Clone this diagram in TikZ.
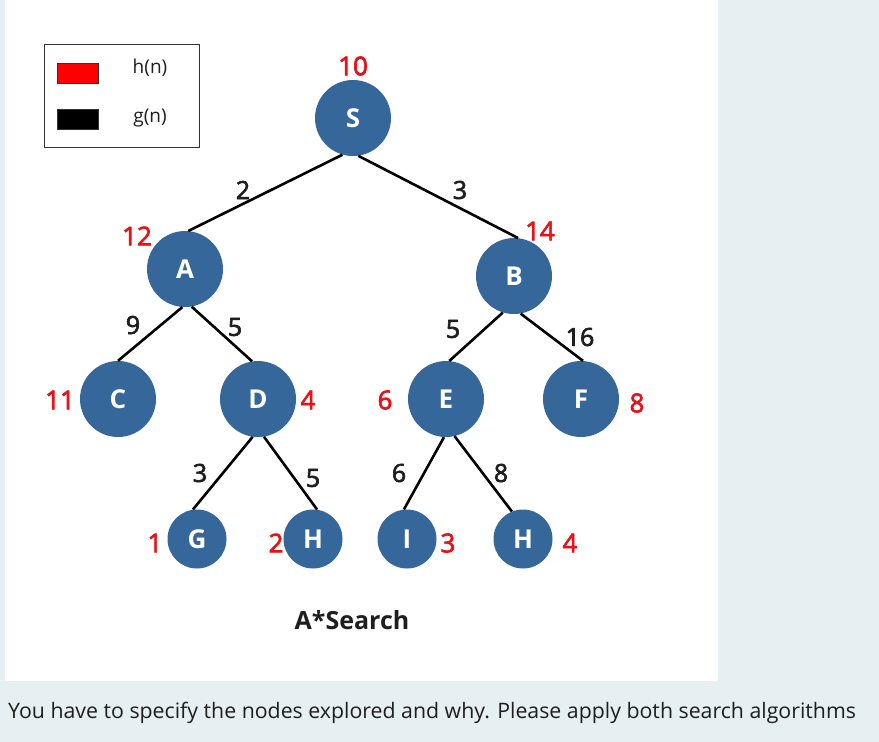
\documentclass[tikz,border=0pt]{standalone}
\usepackage{fontspec}
\setmainfont{Open Sans}
\newfontfamily\medfont[FakeBold=2.5]{Open Sans}
\definecolor{nodeblue}{RGB}{53,103,154}
\definecolor{hred}{RGB}{232,18,22}
\definecolor{pagebg}{RGB}{230,240,243}
\definecolor{inkgray}{RGB}{30,30,30}
\begin{document}
\begin{tikzpicture}[
					x=1pt,y=-1pt,
					snode/.style={circle,fill=nodeblue,text=white,inner sep=0pt,minimum size=76pt,font=\fontsize{26}{29}\selectfont\bfseries},
					leaf/.style={snode,minimum size=59pt},
					hlab/.style={text=hred,font=\fontsize{26}{29}\selectfont\medfont},
					glab/.style={text=inkgray,font=\fontsize{25}{28}\selectfont\medfont},
					tedge/.style={draw=black,line width=2.6pt},
					keybox/.style={draw=black!80,line width=0.8pt,minimum width=41pt,minimum height=20pt,inner sep=0pt}
					]
					\fill[pagebg] (0,0) rectangle (879,742);
					\fill[white] (5,0) rectangle (718,681);
					\useasboundingbox (0,0) rectangle (879,742);
					% legend
					\draw[draw=black!80,line width=1pt] (44,44) rectangle (199,147);
					\node[keybox,fill=red] (kh) at (77.5,73) {};
					\node[keybox,fill=black] (kg) at (77.5,119.5) {};
					\node[text=inkgray,font=\fontsize{19}{22}\selectfont] (lh) at (150,68) {h(n)};
					\node[text=inkgray,font=\fontsize{19}{22}\selectfont] (lg) at (150,118) {g(n)};
					% tree
					\foreach \n/\x/\y/\t in {S/353/118/S,A/185/269/A,B/514/276/B,C/118/399/C,D/258/399/D,E/446/399/E,F/581/399/F}{
						\node[snode] (t\n) at (\x,\y) {\t};
					}
					\foreach \n/\x/\y/\t in {G/197/539/G,H/313/539/H,I/407/539/I,J/523/539/H}{
						\node[leaf] (t\n) at (\x,\y) {\t};
					}
					\foreach \p/\pa/\c/\ca/\w/\lx/\ly in {S/254/A/85/2/243/190,S/278/B/84/3/460/190,A/266/C/90/9/133/325,A/280/D/99/5/235/327,B/253/E/85/5/453/329,B/280/F/87/16/580/337,D/262/G/98/3/200/473,D/279/H/82/5/313/478,E/267/I/96/6/399/473,E/283/J/112/8/501/473}{
						\draw[tedge] (t\p.\pa) -- (t\c.\ca);
						\node[glab] (g\p\c) at (\lx,\ly) {\w};
					}
					\foreach \n/\x/\y/\v in {S/353/66/10,A/137/236/12,B/540/231/14,C/60/400/11,D/308/400/4,E/385/400/6,F/637/403/8,G/155/543/1,H/276/543/2,I/448/543/3,J/570/543/4}{
						\node[hlab] (h\n) at (\x,\y) {\v};
					}
					\node[text=inkgray,font=\fontsize{25}{28}\selectfont\bfseries] (title) at (352,620) {A*Search};
					\node[text=inkgray,anchor=base west,inner sep=0pt,font=\fontsize{21.3}{24}\selectfont] (note) at (8,718) {You have to specify the nodes explored and why. Please apply both search algorithms};
				\end{tikzpicture}
\end{document}
